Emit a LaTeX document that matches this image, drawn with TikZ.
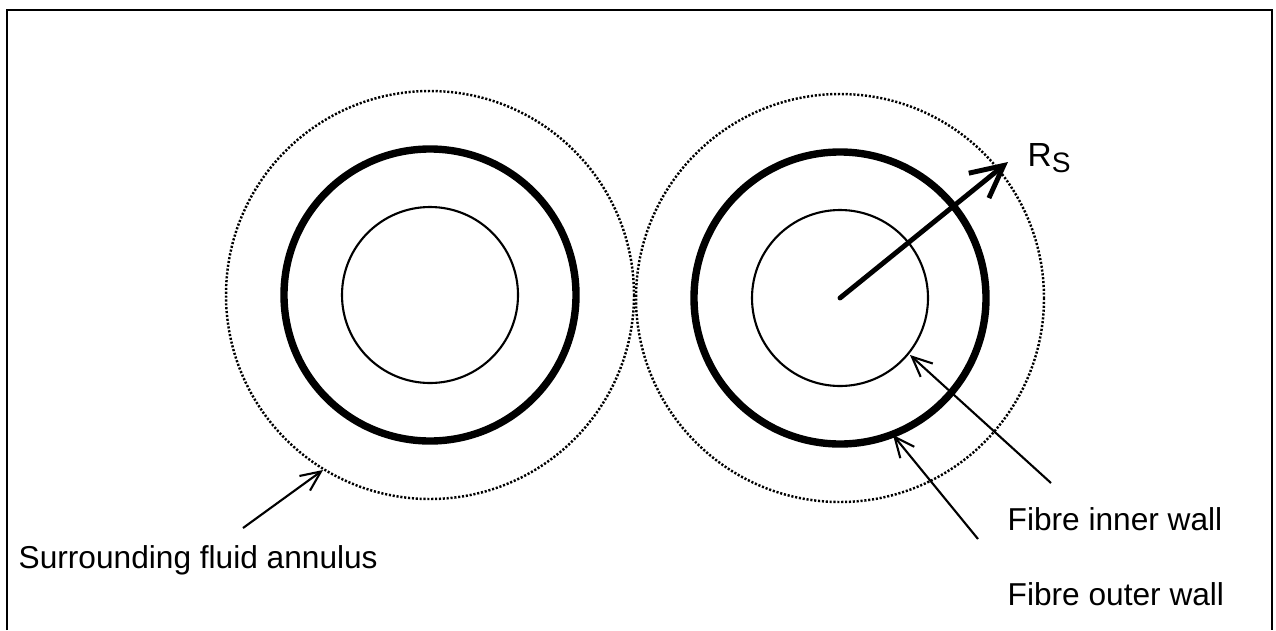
\documentclass[tikz,border=0pt]{standalone}
\usepackage{fontspec}
\setmainfont{Liberation Sans}
\usetikzlibrary{arrows.meta}

\tikzset{
  wallthick/.style={line width=2.1pt},
  wallthin/.style={line width=0.6pt},
  annulus/.style={line width=0.7pt, dash pattern=on 0.6pt off 0.5pt},
  pointer/.style={line width=0.6pt, -{Straight Barb[length=2mm, width=1.8mm]}},
  radiusarrow/.style={line width=1.4pt, line cap=round, -{Straight Barb[length=3.2mm, width=3.2mm]}},
  lbl/.style={anchor=base west, inner sep=0pt, font=\fontsize{9}{11}\selectfont}
}

\begin{document}
\begin{tikzpicture}[x=0.01cm, y=-0.01cm]
            \useasboundingbox (0,0) rectangle (1276,630);
            % Frame
            \draw[line width=0.7pt] (7,630) -- (7,10) -- (1272,10) -- (1272,630);

            % Fibre centres
            \coordinate (lc) at (430,295);
            \coordinate (rc) at (840,298);

            % Left fibre
            \draw[annulus] (lc) circle (204);
            \draw[wallthick] (lc) circle (146);
            \draw[wallthin] (lc) circle (88);

            % Right fibre
            \draw[annulus] (rc) circle (204);
            \draw[wallthick] (rc) circle (146);
            \draw[wallthin] (rc) circle (88);

            % Labels
            \node[lbl] (rs) at (1027,166) {\fontsize{9.5}{11}\selectfont R\raisebox{-0.2em}{\fontsize{8}{10}\selectfont S}};
            \node[lbl] (fluid) at (18,568) {Surrounding fluid annulus};
            \node[lbl] (inner) at (1007,530) {Fibre inner wall};
            \node[lbl] (outer) at (1007,605) {Fibre outer wall};

            % Arrow ends
            \coordinate (rsend) at (1008,162);
            \coordinate (fluidtail) at (243,528);
            \coordinate (fluidtip) at (323,470);
            \coordinate (innertail) at (1051,483);
            \coordinate (innertip) at (910,355);
            \coordinate (outertail) at (978,539);
            \coordinate (outertip) at (893,435);

            % Arrows
            \draw[radiusarrow] (rc) -- (rsend);
            \draw[pointer] (fluidtail) -- (fluidtip);
            \draw[pointer] (innertail) -- (innertip);
            \draw[pointer] (outertail) -- (outertip);
        \end{tikzpicture}
\end{document}
